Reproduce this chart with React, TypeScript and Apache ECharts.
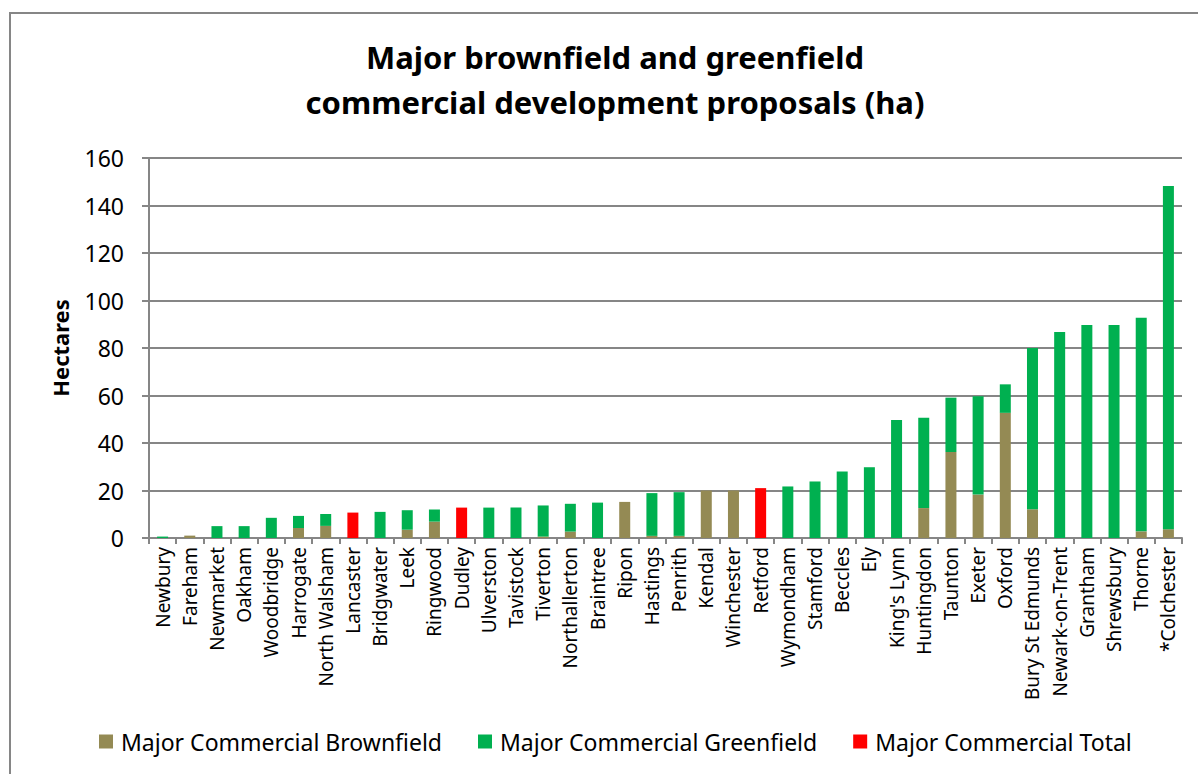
import React, { useEffect, useRef } from "react";
import * as echarts from "echarts";

const categories = [
  "Newbury", "Fareham", "Newmarket", "Oakham", "Woodbridge", "Harrogate", "North Walsham",
  "Lancaster", "Bridgwater", "Leek", "Ringwood", "Dudley", "Ulverston", "Tavistock",
  "Tiverton", "Northallerton", "Braintree", "Ripon", "Hastings", "Penrith", "Kendal",
  "Winchester", "Retford", "Wymondham", "Stamford", "Beccles", "Ely", "King's Lynn",
  "Huntingdon", "Taunton", "Exeter", "Oxford", "Bury St Edmunds", "Newark-on-Trent",
  "Grantham", "Shrewsbury", "Thorne", "*Colchester",
];

const brownfield = [
  0, 1, 0, 0, 0, 4.2, 5.1,
  0, 0, 3.5, 6.9, 0, 0, 0,
  0.6, 2.7, 0, 15.2, 0.9, 0.9, 20,
  20, 0, 0, 0, 0, 0, 0,
  12.6, 36.2, 18.3, 52.7, 12.1, 0,
  0, 0, 2.8, 3.7,
];

const greenfield = [
  0.6, 0, 5, 5, 8.5, 5.1, 5.0,
  0, 11, 8.2, 5.1, 0, 12.8, 12.8,
  13.1, 11.7, 14.9, 0, 18.0, 18.4, 0,
  0, 0, 21.7, 23.8, 28, 29.8, 49.7,
  38.0, 22.9, 41.4, 12.0, 67.9, 86.7,
  89.7, 89.7, 89.9, 144.5,
];

const total = [
  0, 0, 0, 0, 0, 0, 0,
  10.7, 0, 0, 0, 12.8, 0, 0,
  0, 0, 0, 0, 0, 0, 0,
  0, 21, 0, 0, 0, 0, 0,
  0, 0, 0, 0, 0, 0,
  0, 0, 0, 0,
];

const yTicks = { min: 0, max: 160, interval: 20 };

const FONT = "'Noto Sans', 'Liberation Sans', sans-serif";

export default function App() {
  const ref = useRef<HTMLDivElement>(null);

  useEffect(() => {
    if (!ref.current) return;
    const chart = echarts.init(ref.current, null, { renderer: "svg" });
    const nz = (arr: number[]) => arr.map((v) => (v === 0 ? null : v));
    chart.setOption({
      animation: false,
      backgroundColor: "#ffffff",
      textStyle: { fontFamily: FONT },
      title: {
        text: "Major brownfield and greenfield\ncommercial development proposals (ha)",
        left: 610,
        textAlign: "center",
        top: 29,
        textStyle: {
          fontFamily: FONT,
          fontSize: 31,
          fontWeight: "bold",
          color: "#000000",
          lineHeight: 45,
        },
      },
      graphic: [
        {
          type: "rect",
          shape: { x: 10, y: 13, width: 1200, height: 800 },
          style: { fill: "none", stroke: "#868686", lineWidth: 2 },
          silent: true,
        },
      ],
      legend: {
        bottom: 16,
        left: 94,
        itemWidth: 14,
        itemHeight: 14,
        itemGap: 36,
        icon: "rect",
        textStyle: { fontFamily: FONT, fontSize: 23, color: "#000000", padding: [0, 0, 0, 3] },
        data: [
          "Major Commercial Brownfield",
          "Major Commercial Greenfield",
          "Major Commercial Total",
        ],
      },
      grid: { left: 149, right: 16, top: 158, bottom: 236, containLabel: false },
      xAxis: {
        type: "category",
        data: categories,
        axisLine: { lineStyle: { color: "#868686", width: 2 } },
        axisTick: { show: true, alignWithLabel: false, length: 6, lineStyle: { color: "#868686", width: 2 } },
        axisLabel: {
          rotate: 90,
          interval: 0,
          fontSize: 19,
          color: "#000000",
          fontFamily: FONT,
          margin: 9,
        },
      },
      yAxis: {
        type: "value",
        min: yTicks.min,
        max: yTicks.max,
        interval: yTicks.interval,
        name: "Hectares",
        nameLocation: "middle",
        nameGap: 78,
        nameRotate: 90,
        nameTextStyle: { fontFamily: FONT, fontSize: 22, fontWeight: "bold", color: "#000000" },
        axisLine: { show: true, lineStyle: { color: "#868686", width: 2 } },
        axisTick: { show: true, length: 7, lineStyle: { color: "#868686", width: 2 } },
        axisLabel: { fontSize: 23, color: "#000000", fontFamily: FONT, margin: 25 },
        splitLine: { show: true, lineStyle: { color: "#868686", width: 2 } },
      },
      series: [
        {
          name: "Major Commercial Brownfield",
          type: "bar",
          stack: "s",
          barWidth: 11,
          itemStyle: { color: "#948A54" },
          data: nz(brownfield),
        },
        {
          name: "Major Commercial Greenfield",
          type: "bar",
          stack: "s",
          barWidth: 11,
          itemStyle: { color: "#00B050" },
          data: nz(greenfield),
        },
        {
          name: "Major Commercial Total",
          type: "bar",
          stack: "s",
          barWidth: 11,
          itemStyle: { color: "#FF0000" },
          data: nz(total),
        },
      ],
    });
    return () => chart.dispose();
  }, []);

  return (
    <div
      ref={ref}
      style={{ position: "fixed", left: 0, top: 0, width: 1198, height: 774 }}
    />
  );
}
